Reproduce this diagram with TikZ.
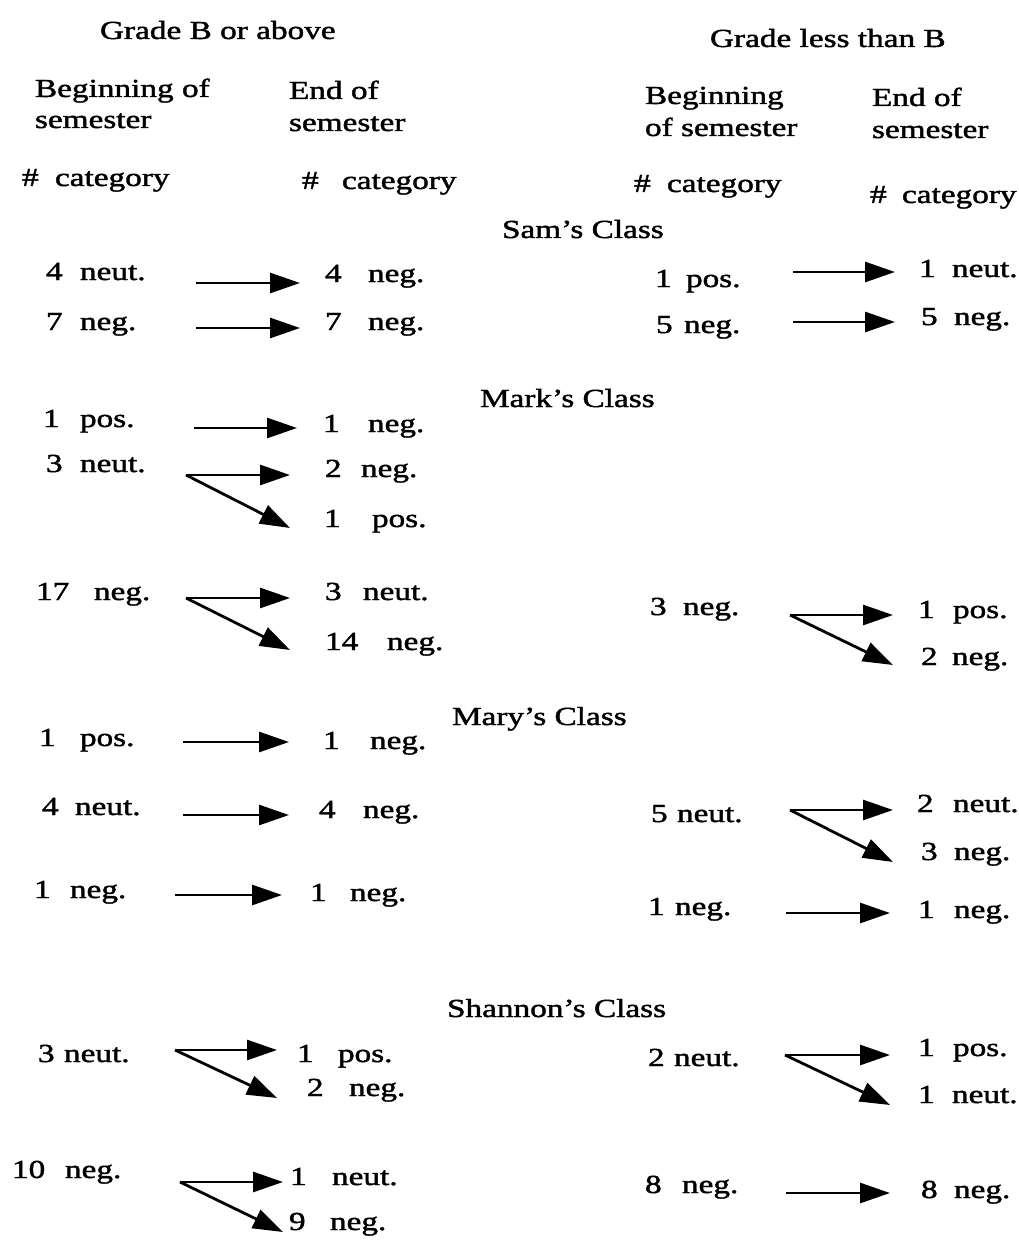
\documentclass[tikz,border=0pt]{standalone}
\usepackage{fontspec}
\setmainfont{Liberation Serif}[FakeStretch=1.28,FakeBold=1.6]
\usetikzlibrary{arrows.meta}
\newcommand{\ent}[3]{\rlap{#1}\hspace{#2pt}#3}
\begin{document}
\begin{tikzpicture}[x=1pt,y=-1pt,
  font=\fontsize{26}{30}\selectfont,
  txt/.style={anchor=base west, inner sep=0pt, outer sep=0pt},
  arr/.style={line width=2.8pt, -{Triangle[length=30pt,width=20pt]}}]
\useasboundingbox (0,0) rectangle (1019,1241);
\fill[white] (0,0) rectangle (1019,1241);

% ---------- headers ----------
\node[txt] (hGB) at (100,39) {Grade B or above};
\node[txt] (hGL) at (710,47) {Grade less than B};
\node[txt] (hB1a) at (35,97) {Beginning of};
\node[txt] (hB1b) at (35,128) {semester};
\node[txt] (hE1a) at (289,99) {End of};
\node[txt] (hE1b) at (289,131) {semester};
\node[txt] (hB2a) at (645,104) {Beginning};
\node[txt] (hB2b) at (645,136) {of semester};
\node[txt] (hE2a) at (872,106) {End of};
\node[txt] (hE2b) at (872,138) {semester};
\node[txt] (hC1) at (22,186) {\ent{\#}{33}{category}};
\node[txt] (hC2) at (302,189) {\ent{\#}{40}{category}};
\node[txt] (hC3) at (634,192) {\ent{\#}{33}{category}};
\node[txt] (hC4) at (870,203) {\ent{\#}{32}{category}};

% ---------- class titles ----------
\node[txt] (tSam) at (502,238) {Sam’s Class};
\node[txt] (tMark) at (480,407) {Mark’s Class};
\node[txt] (tMary) at (452,725) {Mary’s Class};
\node[txt] (tShan) at (447,1017) {Shannon’s Class};

% ---------- Sam ----------
\node[txt] (s1) at (46,280) {\ent{4}{34}{neut.}};
\node[txt] (s2) at (46,330) {\ent{7}{34}{neg.}};
\node[txt] (s1e) at (325,282) {\ent{4}{43}{neg.}};
\node[txt] (s2e) at (325,330) {\ent{7}{43}{neg.}};
\node[txt] (s3) at (655,287) {\ent{1}{31}{pos.}};
\node[txt] (s4) at (656,333) {\ent{5}{28}{neg.}};
\node[txt] (s3e) at (919,277) {\ent{1}{33}{neut.}};
\node[txt] (s4e) at (921,325) {\ent{5}{33}{neg.}};
\coordinate (sa1) at (196,283); \coordinate (sa1t) at (300,283);
\coordinate (sa2) at (196,328); \coordinate (sa2t) at (300,328);
\coordinate (sa3) at (793,272); \coordinate (sa3t) at (895,272);
\coordinate (sa4) at (793,322); \coordinate (sa4t) at (895,322);
\draw[arr] (sa1) -- (sa1t);
\draw[arr] (sa2) -- (sa2t);
\draw[arr] (sa3) -- (sa3t);
\draw[arr] (sa4) -- (sa4t);

% ---------- Mark ----------
\node[txt] (m1) at (43,427) {\ent{1}{37}{pos.}};
\node[txt] (m2) at (46,472) {\ent{3}{34}{neut.}};
\node[txt] (m3) at (36,600) {\ent{17}{58}{neg.}};
\node[txt] (m1e) at (323,432) {\ent{1}{45}{neg.}};
\node[txt] (m2e) at (325,477) {\ent{2}{36}{neg.}};
\node[txt] (m2f) at (324,527) {\ent{1}{48}{pos.}};
\node[txt] (m3e) at (325,600) {\ent{3}{38}{neut.}};
\node[txt] (m3f) at (325,650) {\ent{14}{62}{neg.}};
\node[txt] (m4) at (650,615) {\ent{3}{33}{neg.}};
\node[txt] (m4e) at (918,618) {\ent{1}{35}{pos.}};
\node[txt] (m4f) at (921,665) {\ent{2}{31}{neg.}};
\coordinate (ma1) at (194,428); \coordinate (ma1t) at (297,428);
\coordinate (mf2) at (186,475); \coordinate (mf2h) at (290,475); \coordinate (mf2d) at (290,528);
\coordinate (mf3) at (186,598); \coordinate (mf3h) at (290,598); \coordinate (mf3d) at (290,650);
\coordinate (mf4) at (790,615); \coordinate (mf4h) at (893,615); \coordinate (mf4d) at (893,665);
\draw[arr] (ma1) -- (ma1t);
\draw[arr] (mf2) -- (mf2h); \draw[arr] (mf2) -- (mf2d);
\draw[arr] (mf3) -- (mf3h); \draw[arr] (mf3) -- (mf3d);
\draw[arr] (mf4) -- (mf4h); \draw[arr] (mf4) -- (mf4d);

% ---------- Mary ----------
\node[txt] (y1) at (39,746) {\ent{1}{41}{pos.}};
\node[txt] (y2) at (42,815) {\ent{4}{33}{neut.}};
\node[txt] (y3) at (34,898) {\ent{1}{36}{neg.}};
\node[txt] (y1e) at (323,749) {\ent{1}{47}{neg.}};
\node[txt] (y2e) at (319,818) {\ent{4}{44}{neg.}};
\node[txt] (y3e) at (310,901) {\ent{1}{40}{neg.}};
\node[txt] (y4) at (651,822) {\ent{5}{26}{neut.}};
\node[txt] (y5) at (648,915) {\ent{1}{27}{neg.}};
\node[txt] (y4e) at (917,812) {\ent{2}{36}{neut.}};
\node[txt] (y4f) at (921,860) {\ent{3}{33}{neg.}};
\node[txt] (y5e) at (918,918) {\ent{1}{36}{neg.}};
\coordinate (ya1) at (183,742); \coordinate (ya1t) at (289,742);
\coordinate (ya2) at (183,815); \coordinate (ya2t) at (289,815);
\coordinate (ya3) at (175,895); \coordinate (ya3t) at (282,895);
\coordinate (yf4) at (790,810); \coordinate (yf4h) at (893,810); \coordinate (yf4d) at (893,862);
\coordinate (ya5) at (786,913); \coordinate (ya5t) at (890,913);
\draw[arr] (ya1) -- (ya1t);
\draw[arr] (ya2) -- (ya2t);
\draw[arr] (ya3) -- (ya3t);
\draw[arr] (yf4) -- (yf4h); \draw[arr] (yf4) -- (yf4d);
\draw[arr] (ya5) -- (ya5t);

% ---------- Shannon ----------
\node[txt] (n1) at (38,1062) {\ent{3}{26}{neut.}};
\node[txt] (n2) at (12,1178) {\ent{10}{53}{neg.}};
\node[txt] (n1e) at (297,1062) {\ent{1}{41}{pos.}};
\node[txt] (n1f) at (307,1096) {\ent{2}{42}{neg.}};
\node[txt] (n2e) at (290,1185) {\ent{1}{42}{neut.}};
\node[txt] (n2f) at (289,1230) {\ent{9}{41}{neg.}};
\node[txt] (n3) at (648,1066) {\ent{2}{26}{neut.}};
\node[txt] (n4) at (645,1193) {\ent{8}{37}{neg.}};
\node[txt] (n3e) at (918,1056) {\ent{1}{35}{pos.}};
\node[txt] (n3f) at (918,1103) {\ent{1}{34}{neut.}};
\node[txt] (n4e) at (921,1198) {\ent{8}{33}{neg.}};
\coordinate (nf1) at (175,1050); \coordinate (nf1h) at (277,1050); \coordinate (nf1d) at (277,1098);
\coordinate (nf2) at (180,1182); \coordinate (nf2h) at (283,1182); \coordinate (nf2d) at (283,1232);
\coordinate (nf3) at (785,1055); \coordinate (nf3h) at (890,1055); \coordinate (nf3d) at (890,1105);
\coordinate (na4) at (786,1193); \coordinate (na4t) at (890,1193);
\draw[arr] (nf1) -- (nf1h); \draw[arr] (nf1) -- (nf1d);
\draw[arr] (nf2) -- (nf2h); \draw[arr] (nf2) -- (nf2d);
\draw[arr] (nf3) -- (nf3h); \draw[arr] (nf3) -- (nf3d);
\draw[arr] (na4) -- (na4t);
\end{tikzpicture}
\end{document}
